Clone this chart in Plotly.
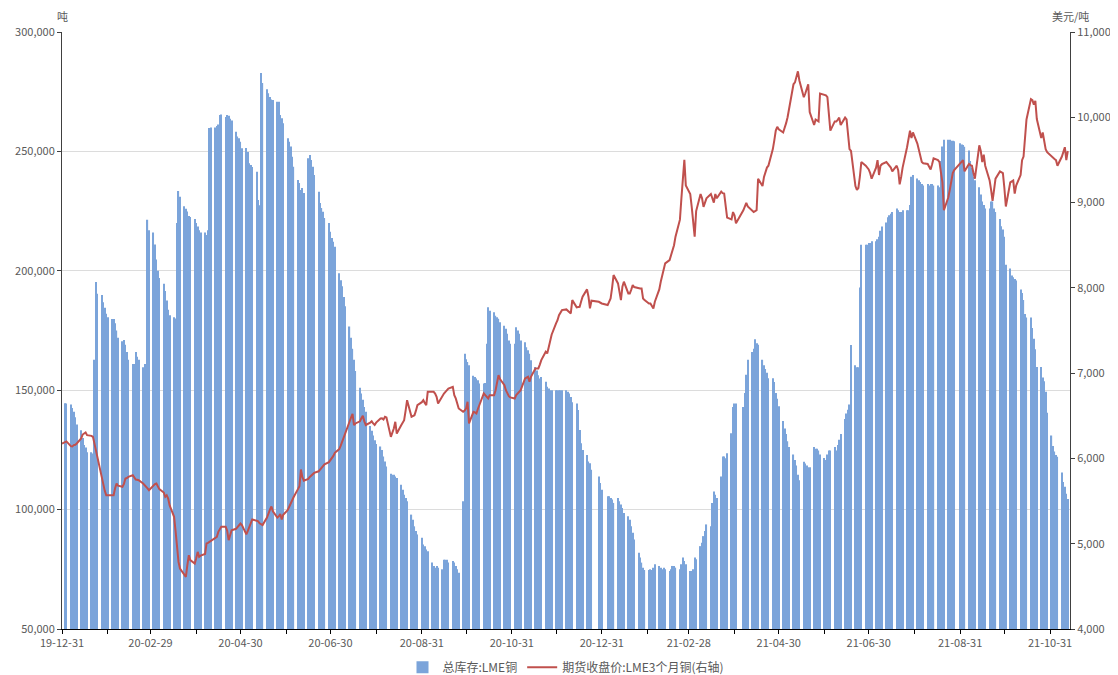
import pandas as pd
import plotly.graph_objects as go

# LME copper total stocks, thousand tonnes, one row per week (business days Mon-Fri)
stock_kt = [
    None, None, 144.5, 144.4,
    144, 142.5, 141, 138.7, 135.6,
    133.2, 130, 127, 126, 124,
    124, 123.5, 162.7, 195.3, 190.4,
    189.9, 186.8, 184.5, 182, 180.6,
    179.8, 179.8, 178, 175, 172,
    170.5, 171, 169, 166, 162.7,
    161, 161, 166, 164, 162.7,
    159.6, 161, 160, 221.4, 217,
    216, 211, 204.7, 200, 197,
    194.6, 191.5, 187.6, 183.7, 181.4,
    180.5, 180, 220, 233.4, 231,
    227, 226, 224.8, 223, 222.5,
    221.7, 220, 218.6, 217, 216,
    216, 215, 217, 259.8, 260,
    260, 260.6, 261.3, 265.2, 265.5,
    264.4, 265.2, 264.9, 263.7, 262.9,
    258.2, 256.2, 255.5, 254, 251.3,
    251.4, 249.7, 245, 244.3, 243.5,
    241.5, 229.6, 227.5, 282.8, 278.6,
    276, 274.4, 272.8, 271.7, 271.5,
    270.8, 270.8, 265.2, 263.9, 261.8,
    255.5, 254, 252, 247.8, 243.6,
    238, 236.8, 233.8, 234.7, 232.6,
    247.1, 248.5, 246.4, 243.6, 240.1,
    233.1, 228.4, 226.3, 224.7, 222.1,
    220, 216.4, 213.7, 212.2, 210.1,
    199, 196, 193.5, 189, 185.2,
    176.7, 172, 167.4, 162.7, 158,
    151, 148.6, 146, 143, 141,
    135, 133, 131, 129, 127.5,
    126.4, 125, 122.2, 120.1, 118,
    115, 114.6, 114.6, 113.9, 113.2,
    110.4, 108.3, 106.2, 104.9, 103.5,
    97.9, 95.8, 93, 91, 89.6,
    88.2, 85.4, 84.7, 83.3, 82.6,
    77.8, 76.4, 75.7, 76.4, 75.7,
    75, 79, 79, 79, 77.8,
    78.5, 77.8, 76.4, 75, 73.6,
    103.5, 165.3, 163, 161.8, 160.4,
    156, 155.5, 154.9, 154.2, 152.8,
    152.8, 153, 169.4, 184.7, 183.3,
    182.6, 181.2, 180.5, 179.9, 178.5,
    177, 175.7, 173.6, 170.8, 169.4,
    169.4, 176.4, 175, 173.6, 170.8,
    170.1, 168, 166.7, 165.3, 162.5,
    159.7, 158.3, 156.3, 154.9, 155.5,
    153.5, 151.4, 150.7, 150, 150,
    150, 150, 150, 150, 150,
    150, 149.3, 148.6, 147.2, 145,
    144.4, 141.7, 133.3, 127.8, 125,
    122.9, 120.1, 119.4, 116.7, None,
    None, 113.9, 111.1, 108.3, None,
    105.6, 105.6, 104.9, 104.2, 102.8,
    104.9, 103.5, 102.1, 100.7, 98.6,
    97.2, 95.8, 93, 90.3, 87.5,
    81.9, 79.9, 77.8, 75.7, 74.7,
    74.7, 75, 74.7, 75.7, 77.1,
    76.4, 75.7, 75, 75.7, 75,
    74.3, 75, 76.4, 76.4, 75.7,
    75, 77.1, 79.9, 78.5, 77.1,
    74.3, 74.3, 75, 79.9, 79.2,
    84.7, 86.1, 88.9, 91, 93.8,
    93, 102.8, 107.6, 106.2, 104.9,
    113.9, 122.2, 122.2, 121.5, 123.6,
    132, 143, 144.4, 144.4, None,
    None, 143, 148.8, 156.5, 162.7,
    166, 167.4, 171.3, 169.7, 169,
    162.7, 160.4, 158.9, 157.3, 155,
    155, 153.4, 148.8, 146.4, 143.3,
    137.1, 134, 131.7, 128.6, 126.2,
    123.1, 120.8, 118.5, 114.6, 112.3,
    120, 119.3, 118.5, 117.7, 117.7,
    126.2, 125.5, 125.5, 124.7, 123.1,
    121.6, 120.8, 123.1, 124.7, 124.7,
    126.2, 124.7, 127, 129.3, 131.7,
    137.9, 140.2, 141.8, 144, 168.9,
    160.4, 159.6, 159.6, 193, 210.9,
    210.9, 210.9, 211.6, 211.6, 212.4,
    212.4, 213.2, 214.3, 216.8, 218.6,
    220.2, 222.4, 223.3, 223.9, 224.6,
    226.1, 225.4, 224.6, 224.6, 225.4,
    225.4, 225.4, 227.6, 239.4, 240.1,
    238.6, 237.9, 237.2, 236.4, 235.7,
    236.4, 235.7, 236.4, 236.4, 235.7,
    235.7, 235, 246, 252, 254.9,
    254.9, 254.9, 254.5, 254.5, 254.3,
    None, 253.4, 252.9, 252.7, 251.9,
    250.4, 246, 243, 239.4, 237.9,
    235, 232, 229, 227.6, 226.1,
    226.1, 229, 229, 226.1, 224.6,
    221.7, 218.7, 217.3, 214.3, 202.5,
    201, 198, 197.3, 196.6, 195.9,
    192.2, 190.7, 187.8, 181.9, 180.4,
    180.4, 176, 171.5, 167.1, 159.7,
    159.7, 155.3, 153.8, 149.4, 140.6,
    131, 126.6, 124.3, 122.9, 122.1,
    115.5, 111.6, 109.6, 106.6, 104.4,
]

# LME 3-month copper close, USD/t, same business days
price = [
    6175, None, 6195, 6200,
    6144, 6140, 6156, 6160, 6175,
    6234, 6280, 6295, 6304, 6273,
    6265, 6253, 6175, 6080, 5980,
    5784, 5700, 5620, 5569, 5569,
    5569, 5569, 5650, 5706, 5680,
    5667, 5700, 5765, 5770, 5784,
    5804, 5780, 5753, 5750, 5745,
    5706, 5690, 5667, 5650, 5628,
    5686, 5700, 5706, 5667, 5640,
    5600, 5550, 5569, 5530, 5450,
    5315, 5150, 4950, 4787, 4709,
    4631, 4611, 4750, 4865, 4807,
    4768, 4830, 4904, 4846, 4860,
    4880, 5002, 5010, 5022, None,
    None, 5080, 5139, 5175, 5198,
    5198, 5153, 5041, 5100, 5158,
    5175, 5198, 5220, 5237, 5219,
    5110, 5150, 5197, 5240, 5284,
    5270, 5262, 5240, 5230, 5219,
    5306, 5360, 5400, 5436, 5380,
    5306, 5320, 5349, 5284, 5340,
    5393, 5430, 5470, 5510, 5544,
    5640, 5674, 5870, 5780, 5740,
    5760, 5783, 5800, 5810, 5830,
    5849, 5870, 5890, 5914, 5930,
    5957, 5980, 6001, 6030, 6066,
    6109, 6150, 6200, 6250, 6283,
    6435, 6480, 6522, 6392, 6410,
    6435, 6470, 6500, 6435, 6392,
    6420, 6435, 6410, 6392, 6420,
    6468, 6470, 6457, 6488, 6480,
    6253, 6300, 6351, 6429, 6292,
    6390, 6420, 6449, 6560, 6683,
    6488, 6500, 6507, 6560, 6625,
    6660, 6683, 6650, 6625, 6781,
    6781, 6781, 6760, 6722, 6644,
    6742, 6760, 6781, 6800, 6820,
    6840, 6742, 6703, 6640, 6586,
    6547, 6560, 6586, 6664, 6410,
    6547, 6540, 6527, 6580, 6625,
    6762, 6742, 6720, 6703, 6742,
    6742, 6800, 6880, 6977, 6930,
    6859, 6800, 6762, 6730, 6715,
    6703, 6742, 6760, 6780, 6801,
    6938, 6945, 6957, 6898, 6957,
    7055, 7055, 7055, 7100, 7153,
    7250, 7231, 7300, 7368, 7450,
    7583, 7620, 7680, 7720, 7739,
    7747, 7735, 7720, 7700, 7856,
    7771, 7775, 7778, 7840, 7896,
    7982, 7896, 7759, 7849, None,
    None, 7837, 7825, 7817, None,
    7798, 7830, 7876, 8000, 8150,
    8052, 7950, 7857, 8013, 8072,
    7935, 7935, 7980, 8033, 8010,
    7993, 7993, 7993, 7876, 7857,
    7817, 7817, 7790, 7759, 7837,
    7982, 8072, 8150, 8220, 8287,
    8326, 8380, 8423, 8500, 8600,
    8800, 9050, 9250, 9500, 9200,
    9100, 8950, 8800, 8600, 8900,
    9100, 9050, 8950, 9000, 9050,
    9100, 9050, 9000, 9100, 9050,
    9128, 9110, 9106, 8950, 8824,
    8802, 8889, 8850, 8758, None,
    None, 8910, 8950, 8997, 8954,
    8910, 8889, 8900, 8910, 9280,
    9193, 9301, 9350, 9410, 9432,
    9627, 9730, 9844, 9888, 9860,
    9822, 9870, 9931, 10000, 10105,
    10387, 10409, 10470, 10539, 10431,
    10235, 10279, 10330, 10387, 10061,
    9909, 9974, 9960, 9952, 10279,
    10257, 10257, 10235, 10050, 9844,
    9952, 9952, 9970, 9996, 9909,
    9996, 9974, 9800, 9627, 9605,
    9193, 9149, 9171, 9300, 9475,
    9432, 9410, 9388, 9345, 9280,
    9410, 9497, 9323, 9432, 9450,
    9475, 9453, 9430, 9410, 9366,
    9432, 9380, 9214, 9300, 9410,
    9649, 9750, 9844, 9757, 9822,
    9692, 9627, 9550, 9475, 9460,
    9453, 9420, 9388, 9450, 9518,
    9497, 9475, 9350, 9236, 8910,
    9062, 9150, 9280, 9345, 9380,
    None, 9453, 9475, 9497, 9366,
    9453, 9440, 9432, 9350, 9280,
    9671, 9605, 9475, 9562, 9432,
    9258, 9150, 9019, 9150, 9280,
    9366, 9350, 9345, 9171, 8954,
    9236, 9245, 9258, 9106, 9200,
    9323, 9497, 9540, 9750, 9974,
    10213, 10200, 10148, 10192, 9980,
    9757, 9822, 9700, 9627, 9590,
    9540, 9518, 9510, 9497, 9432,
    9540, 9600, 9649, 9497, 9605,
]

tick_dates = ["2019-12-31", "2020-01-31", "2020-02-29", "2020-03-31", "2020-04-30",
              "2020-05-31", "2020-06-30", "2020-07-31", "2020-08-31", "2020-09-30",
              "2020-10-31", "2020-11-30", "2020-12-31", "2021-01-31", "2021-02-28",
              "2021-03-31", "2021-04-30", "2021-05-31", "2021-06-30", "2021-07-31",
              "2021-08-31", "2021-09-30", "2021-10-31"]
tick_labels = ["19-12-31", "", "20-02-29", "", "20-04-30", "", "20-06-30", "",
               "20-08-31", "", "20-10-31", "", "20-12-31", "", "21-02-28", "",
               "21-04-30", "", "21-06-30", "", "21-08-31", "", "21-10-31"]

n = min(len(stock_kt), len(price))
dates = pd.bdate_range("2019-12-31", periods=n)
stock = [None if v is None else v * 1000 for v in stock_kt[:n]]
price = price[:n]

FONT = "Noto Sans CJK SC, Microsoft YaHei, sans-serif"
GREY = "#595959"

fig = go.Figure()
fig.add_trace(go.Bar(
    x=dates, y=stock, name="总库存:LME铜",
    marker=dict(color="#7ba4da", line=dict(width=0)),
    yaxis="y",
))
fig.add_trace(go.Scatter(
    x=dates, y=price, name="期货收盘价:LME3个月铜(右轴)",
    mode="lines", line=dict(color="#c0504d", width=2),
    connectgaps=True, yaxis="y2",
))

fig.update_layout(
    width=1118, height=675,
    margin=dict(l=54, r=56, t=24, b=54, autoexpand=False),
    paper_bgcolor="white", plot_bgcolor="white",
    font=dict(family=FONT, size=11, color=GREY),
    bargap=0.2,
    showlegend=True,
    legend=dict(orientation="h", x=0.5, xanchor="center", y=-0.064, yanchor="middle",
                font=dict(size=12, color=GREY), traceorder="normal"),
    xaxis=dict(
        type="date", range=["2019-12-31 00:00", "2021-11-13 12:00"],
        tickmode="array", tickvals=tick_dates, ticktext=tick_labels,
        showgrid=False, showline=True, linecolor="#000000", linewidth=1,
        ticks="outside", ticklen=4, tickcolor="#000000", zeroline=False,
        tickfont=dict(size=11, color=GREY), automargin=False,
    ),
    yaxis=dict(
        range=[50000, 300000], dtick=50000, tickformat=",",
        showgrid=True, gridcolor="#dcdcdc", gridwidth=1,
        showline=True, linecolor="#404040", linewidth=1,
        ticks="outside", ticklen=4, tickcolor="#404040", zeroline=False,
        tickfont=dict(size=11, color=GREY), automargin=False,
    ),
    yaxis2=dict(
        range=[4000, 11000], dtick=1000, tickformat=",",
        overlaying="y", side="right", showgrid=False,
        showline=True, linecolor="#404040", linewidth=1,
        ticks="outside", ticklen=4, tickcolor="#404040", zeroline=False,
        tickfont=dict(size=11, color=GREY), automargin=False,
    ),
    annotations=[
        dict(text="吨", xref="paper", yref="paper", x=0.0, y=1.0, yshift=16,
             xanchor="center", yanchor="middle", showarrow=False,
             font=dict(size=11, color=GREY)),
        dict(text="美元/吨", xref="paper", yref="paper", x=1.0, y=1.0, yshift=16,
             xanchor="center", yanchor="middle", showarrow=False,
             font=dict(size=11, color=GREY)),
    ],
)

fig.write_html("out.html")
